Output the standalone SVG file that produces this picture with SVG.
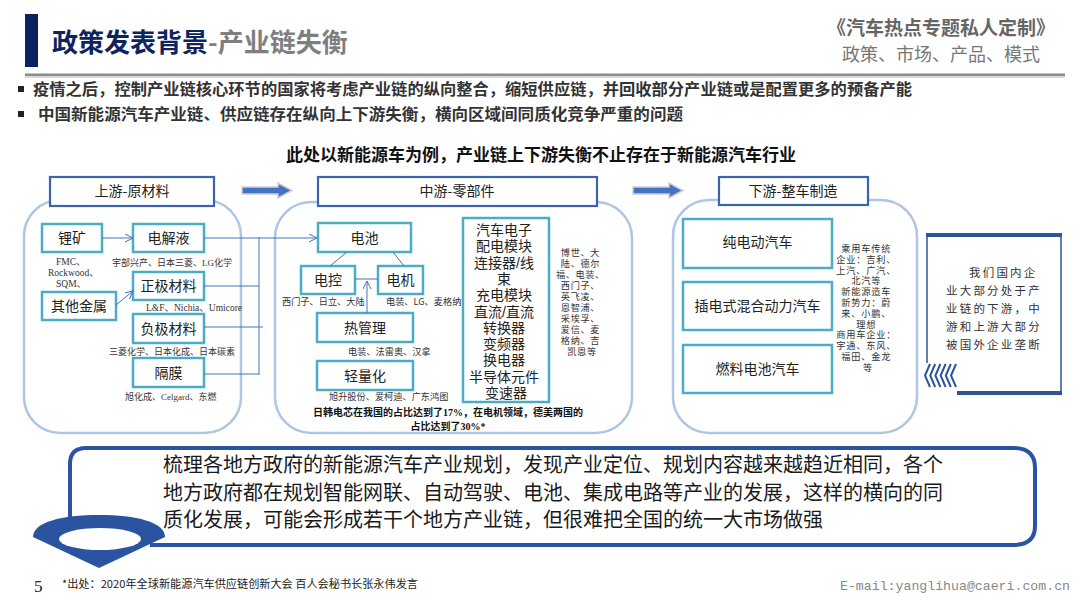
<svg xmlns="http://www.w3.org/2000/svg" width="1080" height="608" viewBox="0 0 1080 608">
<defs>
<style>
.cjk{font-family:"Noto Sans CJK SC","Liberation Sans",sans-serif}
.tight{font-family:"Liberation Sans","Noto Sans CJK SC",sans-serif}
.serif{font-family:"Liberation Serif","Noto Sans CJK SC",serif}
.hdr{fill:#fff;stroke:#3b64ad;stroke-width:2.2}
.panel{fill:none;stroke:#aec5e6;stroke-width:2.5}
.box{fill:#fff;stroke:#4bacc6;stroke-width:2.5}
.conn{stroke:#4472c4;stroke-width:1;fill:none}
.bt{font-size:14px;fill:#222;text-anchor:middle}
.lbl{font-size:9.2px;fill:#333}
.big{fill:#4472c4;stroke:#d0d0d0;stroke-width:1.5}
</style>
<marker id="v" markerWidth="10" markerHeight="10" refX="8" refY="4" orient="auto" markerUnits="userSpaceOnUse">
<path d="M0,0 L8,4 L0,8" fill="none" stroke="#4472c4" stroke-width="1"/>
</marker>
</defs>
<rect width="1080" height="608" fill="#fff"/>

<!-- header -->
<g id="header">
<rect x="25" y="14" width="13" height="53" fill="#0b2261"/>
<text x="52" y="52" class="cjk" font-size="26" font-weight="bold"><tspan fill="#0d2460">政策发表背景</tspan><tspan fill="#7f7f7f">-产业链失衡</tspan></text>
<text x="1055" y="35" class="cjk" font-size="19" font-weight="bold" fill="#666" text-anchor="end">《汽车热点专题私人定制》</text>
<text x="1040" y="61" class="cjk" font-size="18" fill="#777" text-anchor="end">政策、市场、产品、模式</text>
<rect x="25" y="75" width="1040" height="3" fill="#d9d9d9"/>
<rect x="25" y="73.5" width="1040" height="2.5" fill="#8c8c8c"/>
</g>

<g id="bullets">
<rect x="18" y="86" width="6" height="6" fill="#222"/>
<text x="33" y="95" class="cjk" font-size="15.5" font-weight="bold" fill="#333" textLength="879" lengthAdjust="spacingAndGlyphs">疫情之后，控制产业链核心环节的国家将考虑产业链的纵向整合，缩短供应链，并回收部分产业链或是配置更多的预备产能</text>
<rect x="18" y="111" width="6" height="6" fill="#222"/>
<text x="38" y="120" class="cjk" font-size="15.5" font-weight="bold" fill="#333" textLength="645" lengthAdjust="spacingAndGlyphs">中国新能源汽车产业链、供应链存在纵向上下游失衡，横向区域间同质化竞争严重的问题</text>
</g>

<text x="541" y="161" class="cjk" font-size="17" font-weight="bold" fill="#111" text-anchor="middle">此处以新能源车为例，产业链上下游失衡不止存在于新能源汽车行业</text>

<!-- panels -->
<g id="upstream">
<rect x="24" y="200" width="217" height="233" rx="36" class="panel"/>
<rect x="50" y="177" width="164" height="29" class="hdr"/>
<text x="132" y="196" class="cjk bt">上游-原材料</text>
</g>
<g id="midstream">
<rect x="275" y="202" width="357" height="231" rx="36" class="panel"/>
<rect x="318" y="177" width="279" height="29" class="hdr"/>
<text x="457" y="196" class="cjk bt">中游-零部件</text>
</g>
<g id="downstream">
<rect x="673" y="200" width="244" height="233" rx="36" class="panel"/>
<rect x="719" y="177" width="149" height="28" class="hdr"/>
<text x="793" y="196" class="cjk bt">下游-整车制造</text>
</g>

<g id="bigarrows">
<path class="big" d="M242,187 L278,187 L278,183 L292,190.5 L278,198 L278,194 L242,194 Z"/>
<path class="big" d="M633,187 L669,187 L669,183 L683,190.5 L669,198 L669,194 L633,194 Z"/>
</g>

<!-- upstream nodes -->
<g id="n-limine"><rect x="42" y="224" width="60" height="28" class="box"/><text x="72" y="243" class="cjk bt" font-size="15">锂矿</text></g>
<g id="n-othermetal"><rect x="42" y="292" width="74" height="28" class="box"/><text x="79" y="311" class="cjk bt" font-size="15">其他金属</text></g>
<g id="n-electrolyte"><rect x="133" y="224" width="71" height="28" class="box"/><text x="168.5" y="243" class="cjk bt" font-size="15">电解液</text></g>
<g id="n-cathode"><rect x="133" y="272" width="71" height="28" class="box"/><text x="168.5" y="291" class="cjk bt" font-size="15">正极材料</text></g>
<g id="n-anode"><rect x="133" y="314" width="71" height="29" class="box"/><text x="168.5" y="333.5" class="cjk bt" font-size="15">负极材料</text></g>
<g id="n-separator"><rect x="133" y="358" width="71" height="29" class="box"/><text x="168.5" y="377.5" class="cjk bt" font-size="15">隔膜</text></g>
<g id="up-labels" class="serif" fill="#333" font-size="9.5">
<text x="56" y="265">FMC、</text>
<text x="48" y="276">Rockwood、</text>
<text x="56" y="287">SQM、</text>
<text x="112" y="266" font-size="9">宇部兴产、日本三菱、LG化学</text>
<text x="146" y="311">L&amp;F、Nichia、Umicore</text>
<text x="109" y="355" font-size="9">三菱化学、日本化成、日本碳素</text>
<text x="125" y="400" font-size="9">旭化成、Celgard、东燃</text>
</g>

<!-- midstream nodes -->
<g id="n-battery"><rect x="318" y="223" width="93" height="29" class="box"/><text x="364.5" y="242.5" class="cjk bt" font-size="15">电池</text></g>
<g id="n-ecu"><rect x="301" y="266" width="54" height="28" class="box"/><text x="328" y="285" class="cjk bt" font-size="15">电控</text></g>
<g id="n-motor"><rect x="378" y="266" width="45" height="28" class="box"/><text x="400.5" y="285" class="cjk bt" font-size="15">电机</text></g>
<g id="n-thermal"><rect x="317" y="313" width="96" height="29" class="box"/><text x="365" y="332.5" class="cjk bt" font-size="15">热管理</text></g>
<g id="n-light"><rect x="317" y="361" width="96" height="29" class="box"/><text x="365" y="380.5" class="cjk bt" font-size="15">轻量化</text></g>
<g id="n-electronics">
<rect x="463" y="218" width="86" height="184" class="box"/>
<text class="tight bt" font-size="14">
<tspan x="506" y="235">汽车电子</tspan>
<tspan x="506" y="251.3">配电模块</tspan>
<tspan x="506" y="267.6">连接器/线</tspan>
<tspan x="506" y="283.9">束</tspan>
<tspan x="506" y="300.2">充电模块</tspan>
<tspan x="506" y="316.5">直流/直流</tspan>
<tspan x="506" y="332.8">转换器</tspan>
<tspan x="506" y="349.1">变频器</tspan>
<tspan x="506" y="365.4">换电器</tspan>
<tspan x="506" y="381.7">半导体元件</tspan>
<tspan x="506" y="398">变速器</tspan>
</text>
</g>
<g id="mid-labels" class="cjk lbl">
<text x="282" y="305">西门子、日立、大陆</text>
<text x="386" y="305">电装、LG、麦格纳</text>
<text x="348" y="355">电装、法雷奥、汉拿</text>
<text x="329" y="400">旭升股份、爱柯迪、广东鸿图</text>
<text class="tight" text-anchor="middle" font-size="9.2" letter-spacing="0.6">
<tspan x="582" y="256">博世、大</tspan>
<tspan x="582" y="267">陆、德尔</tspan>
<tspan x="582" y="278">福、电装、</tspan>
<tspan x="582" y="289">西门子、</tspan>
<tspan x="582" y="300">英飞凌、</tspan>
<tspan x="582" y="311">恩智浦、</tspan>
<tspan x="582" y="322">采埃孚、</tspan>
<tspan x="582" y="333">爱信、麦</tspan>
<tspan x="582" y="344">格纳、吉</tspan>
<tspan x="582" y="355">凯恩等</tspan>
</text>
</g>
<text class="serif" font-size="10" font-weight="bold" fill="#111" text-anchor="middle"><tspan x="448" y="416">日韩电芯在我国的占比达到了17%，在电机领域，德美两国的</tspan><tspan x="448" y="430">占比达到了30%*</tspan></text>

<!-- downstream nodes -->
<g id="n-bev"><rect x="683" y="219" width="149" height="49" class="box"/><text x="757.5" y="247" class="cjk bt" font-size="14">纯电动汽车</text></g>
<g id="n-phev"><rect x="683" y="282" width="149" height="48" class="box"/><text x="757.5" y="311" class="cjk bt" font-size="13.5">插电式混合动力汽车</text></g>
<g id="n-fcev"><rect x="683" y="345" width="149" height="48" class="box"/><text x="757.5" y="374" class="cjk bt" font-size="14">燃料电池汽车</text></g>
<text class="tight lbl" text-anchor="middle" font-size="9" letter-spacing="0.8">
<tspan x="868" y="252">乘用车传统</tspan>
<tspan x="868" y="262.8">企业：吉利、</tspan>
<tspan x="868" y="273.6">上汽、广汽、</tspan>
<tspan x="868" y="284.4">北汽等</tspan>
<tspan x="868" y="295.2">新能源造车</tspan>
<tspan x="868" y="306">新势力：蔚</tspan>
<tspan x="868" y="316.8">来、小鹏、</tspan>
<tspan x="868" y="327.6">理想</tspan>
<tspan x="868" y="338.4">商用车企业：</tspan>
<tspan x="868" y="349.2">宇通、东风、</tspan>
<tspan x="868" y="360">福田、金龙</tspan>
<tspan x="868" y="370.8">等</tspan>
</text>

<!-- connectors -->
<g id="connectors">
<line x1="102" y1="238" x2="133" y2="238" class="conn" marker-end="url(#v)"/>
<line x1="116" y1="305" x2="133" y2="291" class="conn" marker-end="url(#v)"/>
<line x1="204" y1="238" x2="317" y2="238" class="conn" marker-end="url(#v)"/>
<line x1="204" y1="286" x2="259" y2="286" class="conn"/>
<line x1="204" y1="327" x2="263" y2="327" class="conn"/>
<line x1="204" y1="374" x2="259" y2="374" class="conn"/>
<line x1="259" y1="237" x2="259" y2="375" class="conn"/>
<line x1="347" y1="252" x2="330" y2="266" class="conn"/>
<line x1="393" y1="252" x2="404" y2="266" class="conn"/>
<line x1="355" y1="279" x2="378" y2="279" class="conn"/>
<line x1="367" y1="313" x2="367" y2="281" class="conn" marker-end="url(#v)"/>
</g>

<!-- callout right -->
<g id="callout">
<rect x="926" y="233" width="136" height="4" fill="#2f5597"/>
<line x1="927" y1="233" x2="927" y2="363" stroke="#2f5597" stroke-width="1.5"/>
<line x1="1061" y1="233" x2="1061" y2="395" stroke="#2f5597" stroke-width="1.5"/>
<rect x="957" y="391" width="105" height="4" fill="#2f5597"/>
<g fill="none" stroke="#2f5597" stroke-width="2">
<polyline points="930,364 925,375.5 930,387"/>
<polyline points="935.2,364 930.2,375.5 935.2,387"/>
<polyline points="940.4,364 935.4,375.5 940.4,387"/>
<polyline points="945.6,364 940.6,375.5 945.6,387"/>
<polyline points="950.8,364 945.8,375.5 950.8,387"/>
<polyline points="956,364 951,375.5 956,387"/>
</g>
<text class="cjk" font-size="11.5" fill="#333" letter-spacing="2.2">
<tspan x="969" y="277">我们国内企</tspan>
<tspan x="946" y="295">业大部分处于产</tspan>
<tspan x="946" y="313">业链的下游，中</tspan>
<tspan x="946" y="331">游和上游大部分</tspan>
<tspan x="946" y="349">被国外企业垄断</tspan>
</text>
</g>

<!-- bottom box -->
<g id="summary">
<path d="M70,517 L70,464 Q70,448 86,448 L1013,448 Q1035,448 1035,468 L1035,526 Q1035,545 1013,545 L150,545" fill="none" stroke="#2b54a0" stroke-width="4"/>
<path d="M33,537 C33,522 62,515 99,515 C136,515 165,522 165,537 L99,568 Z" fill="#2b54a0"/>
<ellipse cx="100" cy="539" rx="41" ry="11" fill="#fff"/>
<text class="cjk" font-size="20" fill="#1a1a1a">
<tspan x="163" y="472">梳理各地方政府的新能源汽车产业规划，发现产业定位、规划内容越来越趋近相同，各个</tspan>
<tspan x="163" y="500">地方政府都在规划智能网联、自动驾驶、电池、集成电路等产业的发展，这样的横向的同</tspan>
<tspan x="163" y="527">质化发展，可能会形成若干个地方产业链，但很难把全国的统一大市场做强</tspan>
</text>
</g>

<!-- footer -->
<g id="footer">
<text x="34" y="592" class="serif" font-size="17" fill="#222">5</text>
<text x="62" y="588" class="cjk" font-size="11" fill="#222" textLength="356" lengthAdjust="spacingAndGlyphs">*出处：2020年全球新能源汽车供应链创新大会  百人会秘书长张永伟发言</text>
<text x="840" y="590" font-family="Liberation Mono, monospace" font-size="13" fill="#888" textLength="230" lengthAdjust="spacingAndGlyphs">E-mail:yanglihua@caeri.com.cn</text>
</g>
</svg>
